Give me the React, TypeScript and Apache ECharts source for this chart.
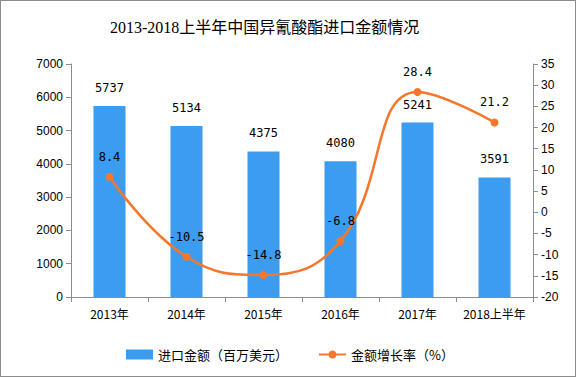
import React, { useEffect, useRef } from "react";
import * as echarts from "echarts";

const categories = ["2013年", "2014年", "2015年", "2016年", "2017年", "2018上半年"];
const importValues = [5737, 5134, 4375, 4080, 5241, 3591];
const growthRates = [8.4, -10.5, -14.8, -6.8, 28.4, 21.2];
const barName = "进口金额（百万美元）";
const lineName = "金额增长率（%）";
const title = "2013-2018上半年中国异氰酸酯进口金额情况";

export default function App() {
  const ref = useRef<HTMLDivElement>(null);
  useEffect(() => {
    document.body.style.margin = "0";
    const chart = echarts.init(ref.current!, null, { renderer: "svg" });
    const axisLine = { show: true, lineStyle: { color: "#8c8c8c" } };
    const numFont = { fontFamily: "Liberation Sans", fontSize: 12, color: "#000" };
    chart.setOption({
      animation: false,
      backgroundColor: "#fff",
      title: {
        text: title,
        left: 104,
        top: 13,
        textStyle: { fontFamily: "Liberation Serif, Noto Sans CJK SC", fontSize: 16, fontWeight: "normal", color: "#000" },
      },
      grid: { left: 70, right: 42, top: 63, bottom: 79 },
      legend: {
        bottom: 10,
        left: 120,
        itemGap: 30,
        itemWidth: 27,
        itemHeight: 10,
        textStyle: { fontFamily: "Noto Sans CJK SC", fontSize: 13, color: "#000" },
        data: [
          { name: barName, icon: "rect" },
          { name: lineName },
        ],
      },
      xAxis: {
        type: "category",
        data: categories,
        axisLine,
        axisTick: { show: true, alignWithLabel: false, lineStyle: { color: "#8c8c8c" } },
        axisLabel: { interval: 0, fontFamily: "Noto Sans CJK SC", fontSize: 12, color: "#000", margin: 10 },
      },
      yAxis: [
        {
          type: "value",
          min: 0,
          max: 7000,
          interval: 1000,
          axisLine,
          axisTick: { show: true, lineStyle: { color: "#8c8c8c" } },
          splitLine: { show: false },
          axisLabel: { ...numFont, margin: 8, formatter: (v: number) => String(v) },
        },
        {
          type: "value",
          min: -20,
          max: 35,
          interval: 5,
          position: "right",
          axisLine,
          axisTick: { show: true, lineStyle: { color: "#8c8c8c" } },
          splitLine: { show: false },
          axisLabel: { ...numFont, margin: 8, formatter: (v: number) => String(v) },
        },
      ],
      series: [
        {
          name: barName,
          type: "bar",
          data: importValues,
          barWidth: 32,
          itemStyle: { color: "#3C9CF0" },
          label: {
            show: true,
            position: "top",
            distance: 12,
            fontFamily: "DejaVu Sans Mono",
            fontSize: 12,
            color: "#000",
          },
        },
        {
          name: lineName,
          type: "line",
          yAxisIndex: 1,
          data: growthRates,
          smooth: 0.45,
          symbol: "circle",
          symbolSize: 8,
          lineStyle: { color: "#F5772B", width: 2.5 },
          itemStyle: { color: "#F5772B" },
          label: {
            show: true,
            position: "top",
            distance: 10,
            fontFamily: "DejaVu Sans Mono",
            fontSize: 12,
            color: "#000",
          },
        },
      ],
    });
    return () => chart.dispose();
  }, []);
  return (
    <div
      ref={ref}
      style={{ width: 576, height: 377, border: "1px solid #8c8c8c", boxSizing: "border-box" }}
    />
  );
}
